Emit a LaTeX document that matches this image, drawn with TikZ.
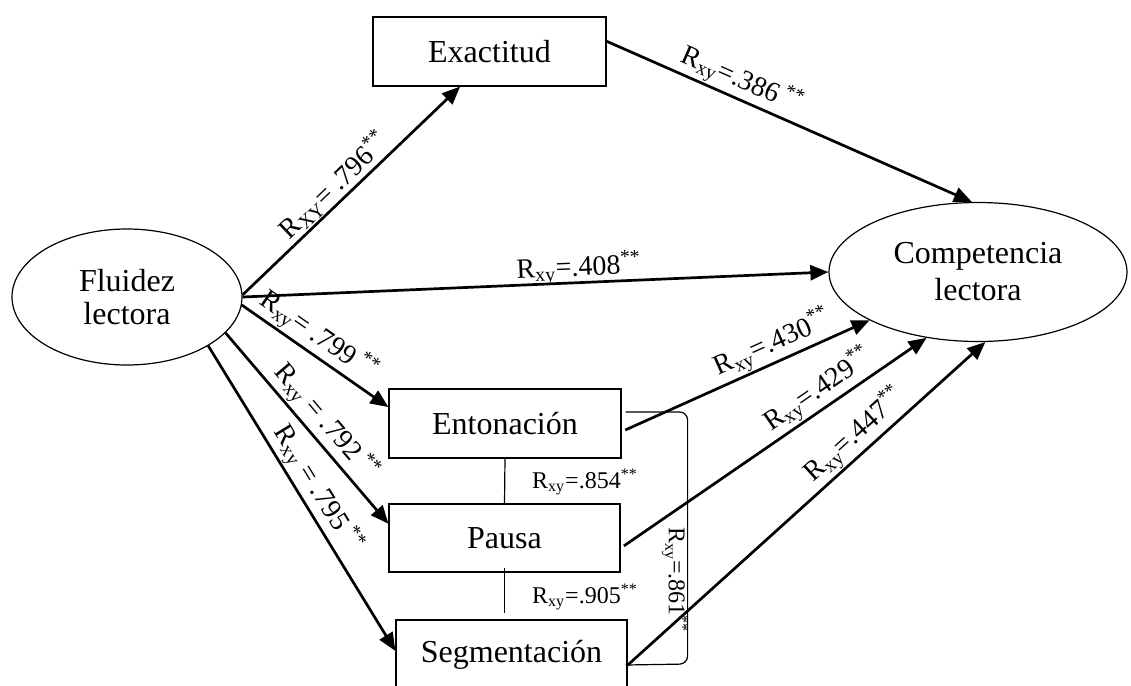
\documentclass[tikz,border=0pt]{standalone}
\usepackage{fontspec}
\setmainfont{Liberation Serif}
\usetikzlibrary{shapes.geometric,arrows.meta,calc}

\tikzset{
	elip/.style={draw, ellipse, line width=0.6pt, inner sep=0pt, align=center},
	caja/.style={draw, rectangle, line width=0.6pt, inner sep=0pt, font=\fontsize{16}{17}\selectfont},
	flecha/.style={line width=1.35pt, -{Triangle[length=9pt,width=7.5pt]}},
	etq/.style={sloped, above, inner sep=0.5pt, font=\fontsize{14}{14}\selectfont},
	corr/.style={font=\fontsize{12}{12}\selectfont},
}

\begin{document}
\begin{tikzpicture}[x=0.5pt, y=-0.5pt]
	\useasboundingbox (0,0) rectangle (1131,686);

	% Variables latentes
	\node[elip, minimum width=115pt, minimum height=68pt, font=\fontsize{16}{16.5}\selectfont] (flu) at (127,297) {Fluidez\\lectora};
	\node[elip, minimum width=149pt, minimum height=69.5pt, font=\fontsize{16}{18.5}\selectfont] (comp) at (978,272) {Competencia\\lectora};

	% Componentes de la fluidez
	\node[caja, minimum width=116.5pt, minimum height=34.5pt] (exa) at (489.5,51.5) {Exactitud};
	\node[caja, minimum width=116pt, minimum height=34.5pt] (ent) at (505,423.5) {Entonación};
	\node[caja, minimum width=115.5pt, minimum height=34pt] (pau) at (504.5,538) {Pausa};
	\node[caja, minimum width=115.5pt, minimum height=35pt] (seg) at (511.5,655) {Segmentación};

	% Fluidez -> componentes
	\draw[flecha] (flu.1) -- node[etq, pos=0.47] {R\textsubscript{XY}= .796\textsuperscript{**}} (exa.-130);
	\draw[flecha] (flu.0) -- node[etq, pos=0.575, yshift=-2pt] {R\textsubscript{xy}=.408\textsuperscript{**}} (comp.west);
	\draw[flecha] (flu.-4) -- node[etq, pos=0.45] {R\textsubscript{xy}= .799\,\textsuperscript{**}} (ent.172);
	\draw[flecha] (flu.-20) -- node[etq, pos=0.53] {R\textsubscript{xy} = .792\,\textsuperscript{**}} (pau.173);
	\draw[flecha] (flu.-31) -- node[etq, pos=0.5] {R\textsubscript{xy} = .795\,\textsuperscript{**}} (seg.178);

	% Componentes -> competencia
	\draw[flecha] (exa.5) -- node[etq, pos=0.35] {R\textsubscript{xy}=.386\,\textsuperscript{**}} (comp.95);
	\draw[flecha, shorten <=2pt] (ent.-4) -- node[etq, pos=0.64] {R\textsubscript{xy}=.430\textsuperscript{**}} (comp.-156);
	\draw[flecha, shorten <=2pt] (pau.-5) -- node[etq, pos=0.68] {R\textsubscript{xy}=.429\textsuperscript{**}} (comp.-128);
	\draw[flecha] (seg.-5) -- node[etq, pos=0.67] {R\textsubscript{xy}=.447\textsuperscript{**}} (comp.-84);

	% Correlaciones entre componentes
	\draw[line width=0.6pt] (ent.south) -- (pau.north);
	\draw[line width=0.6pt] ([yshift=2.5pt]pau.south) -- ([yshift=3pt]pau.south |- seg.north);
	\draw[line width=0.6pt, rounded corners=4pt] ([xshift=2pt,yshift=5.75pt]ent.east) -| ($(seg.east)+(60,9)$) -- ([xshift=-1pt,yshift=-5pt]seg.east);
	\node[corr] (r854) at (585,482) {R\textsubscript{xy}=.854\textsuperscript{**}};
	\node[corr] (r905) at (585,597) {R\textsubscript{xy}=.905\textsuperscript{**}};
	\node[corr, rotate=-90] (r861) at (675,580) {R\textsubscript{xy}=.861\textsuperscript{**}};

\end{tikzpicture}
\end{document}
